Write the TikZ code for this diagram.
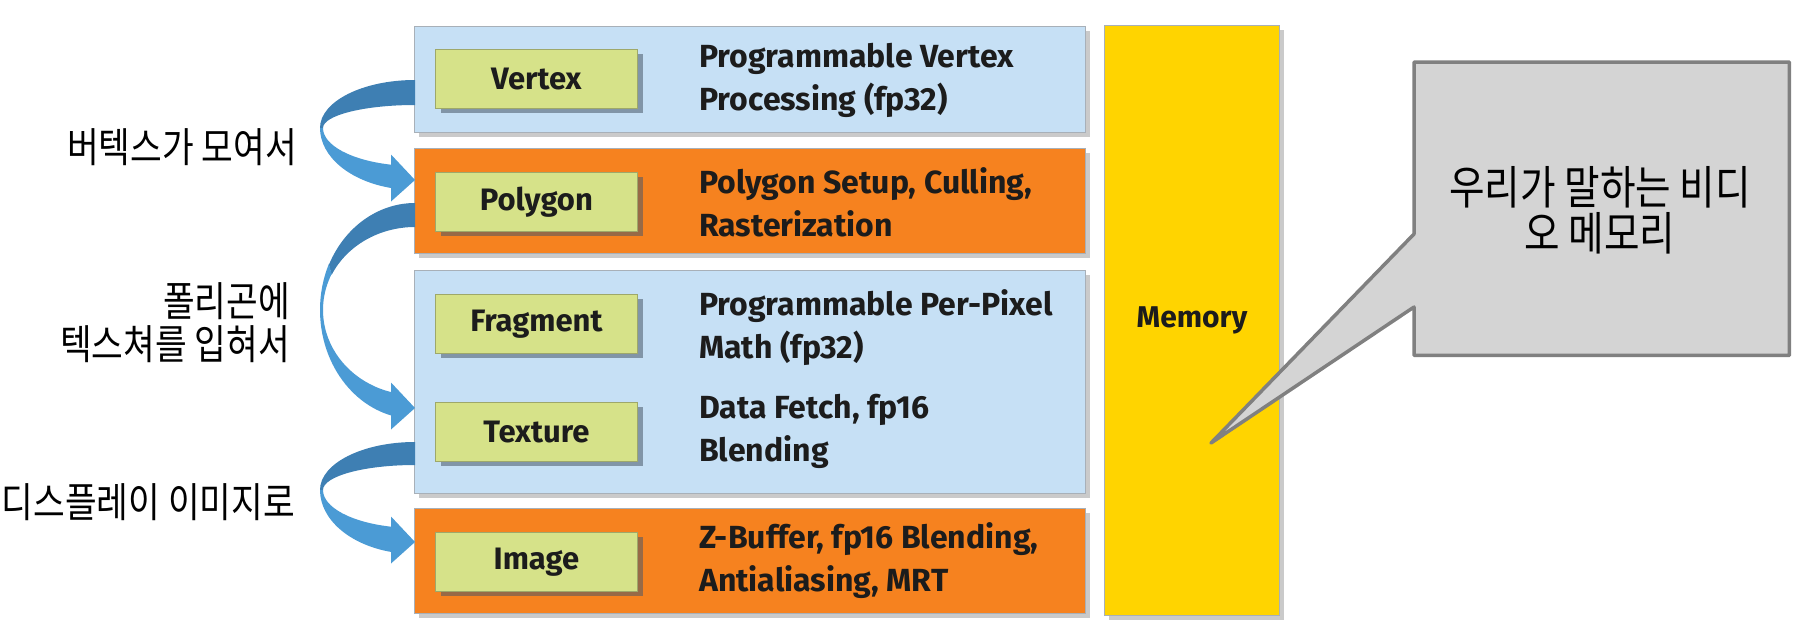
\documentclass[tikz,border=0pt]{standalone}
\usepackage{fontspec}
\setmainfont{Fira Sans}
\newfontfamily\kr[FakeStretch=0.84]{Noto Sans CJK KR}
\usetikzlibrary{shadows,calc}
\definecolor{rowblue}{HTML}{C6E0F5}
\definecolor{roworange}{HTML}{F6821F}
\definecolor{boxgreen}{HTML}{D6E289}
\definecolor{memyellow}{HTML}{FFD400}
\definecolor{arrdark}{HTML}{3E7FB3}
\definecolor{arrlight}{HTML}{4B9BD5}
\definecolor{callgray}{HTML}{D4D4D4}
\definecolor{callline}{HTML}{808080}
\definecolor{rowedge}{HTML}{A8B0B8}
\definecolor{greenedge}{HTML}{9EA86A}
\definecolor{shadowblue}{HTML}{4A5868}
\definecolor{textdark}{HTML}{1C1C1C}
% #1 cx, #2 cy, #3/#4 outer/inner y radius (upper part), #5/#6 outer/inner y radius (lower part), #7 colour split angle, #8 head centre y
\newcommand\flowribbon[8]{%
  \fill[arrdark] (#1,#2-#3) arc[start angle=270, end angle=#7, x radius=95, y radius=#3]
     -- ($(#1,#2)+(#7:92 and #4)$) arc[start angle=#7, end angle=270, x radius=92, y radius=#4] -- cycle;
  \fill[arrlight] ($(#1,#2)+(#7:95 and #5)$) arc[start angle=#7, end angle=104, x radius=95, y radius=#5]
     -- ($(#1,#2)+(104.5:92 and #6)$) arc[start angle=104.5, end angle=#7, x radius=92, y radius=#6] -- cycle;
  \fill[arrlight] (#1-24,#8-23.5) -- (#1-24,#8+23.5) -- (#1,#8+2) -- cycle;
}
\begin{document}
\begin{tikzpicture}[x=1pt,y=-1pt,
  rowbox/.style={draw=rowedge, line width=1pt, anchor=north west, inner sep=0pt,
    drop shadow={shadow xshift=4pt, shadow yshift=-4pt, opacity=0.35, fill=black!60}},
  greenbox/.style={fill=boxgreen, draw=greenedge, line width=0.8pt, minimum width=202pt,
    minimum height=59pt, anchor=north west, inner sep=0pt, text=textdark,
    font=\fontsize{31}{36}\selectfont\bfseries,
    drop shadow={shadow xshift=6pt, shadow yshift=-5pt, opacity=0.55, fill=shadowblue}},
  desc/.style={anchor=west, align=left, inner sep=0pt, text=textdark,
    font=\fontsize{32}{43}\selectfont\bfseries},
  memlabel/.style={inner sep=0pt, text=textdark, font=\fontsize{30}{36}\selectfont\bfseries},
  krlab/.style={anchor=east, align=right, inner sep=0pt, text=black,
    font=\kr\fontsize{41}{43}\selectfont},
  krcall/.style={align=center, inner sep=0pt, text=black,
    font=\kr\fontsize{46}{46}\selectfont}
]
\useasboundingbox (0,0) rectangle (1814,632);

% pipeline rows
\node[rowbox, fill=rowblue, minimum width=671pt, minimum height=106pt] (vrow) at (414,26) {};
\node[rowbox, fill=roworange, minimum width=671pt, minimum height=105pt] (prow) at (414,148) {};
\node[rowbox, fill=rowblue, minimum width=671pt, minimum height=223pt] (frow) at (414,270) {};
\node[rowbox, fill=roworange, minimum width=671pt, minimum height=105pt] (irow) at (414,508) {};
\node[rowbox, fill=memyellow, minimum width=175pt, minimum height=590pt] (mem) at (1104,25) {};

% stage boxes
\node[greenbox] (vbox) at (435,49) {Vertex};
\node[greenbox] (pbox) at (435,172) {Polygon};
\node[greenbox] (fbox) at (435,294) {Fragment};
\node[greenbox] (tbox) at (435,402) {Texture};
\node[greenbox] (ibox) at (435,532) {Image};

% descriptions
\node[desc] (vdesc) at (699,80) {Programmable Vertex\\Processing (fp32)};
\node[desc] (pdesc) at (699,202.5) {Polygon Setup, Culling,\\Rasterization};
\node[desc] (fdesc) at (699,327.5) {Programmable Per-Pixel\\Math (fp32)};
\node[desc] (tdesc) at (699,431) {Data Fetch, fp16\\Blending};
\node[desc] (idesc) at (699,561) {Z-Buffer, fp16 Blending,\\Antialiasing, MRT};
\node[memlabel] (memlab) at (mem.center) {Memory};

% curved flow arrows
\flowribbon{415}{128}{48}{23}{62}{38}{180}{178}
\flowribbon{415}{310}{107}{83}{109}{85}{205}{406}
\flowribbon{415}{490}{48}{25}{64}{38}{180}{540}

% left labels
\node[krlab] (l1) at (297,147.5) {버텍스가 모여서};
\node[krlab] (l2) at (290,322.5) {폴리곤에\\텍스쳐를 입혀서};
\node[krlab] (l3) at (295,502) {디스플레이 이미지로};

% callout
\node[minimum width=375pt, minimum height=293pt, anchor=north west, inner sep=0pt] (callbox) at (1414,62) {};
\coordinate (memtip) at (1211,443);
\draw[callline, fill=callgray, line width=3.5pt, line join=round]
  (callbox.north west) -- (callbox.north east) -- (callbox.south east) -- (callbox.south west)
  -- (1414,307) -- (memtip) -- (1414,234) -- cycle;
\node[krcall] (calltext) at (1600,210) {우리가 말하는 비디\\오 메모리};
\end{tikzpicture}
\end{document}
